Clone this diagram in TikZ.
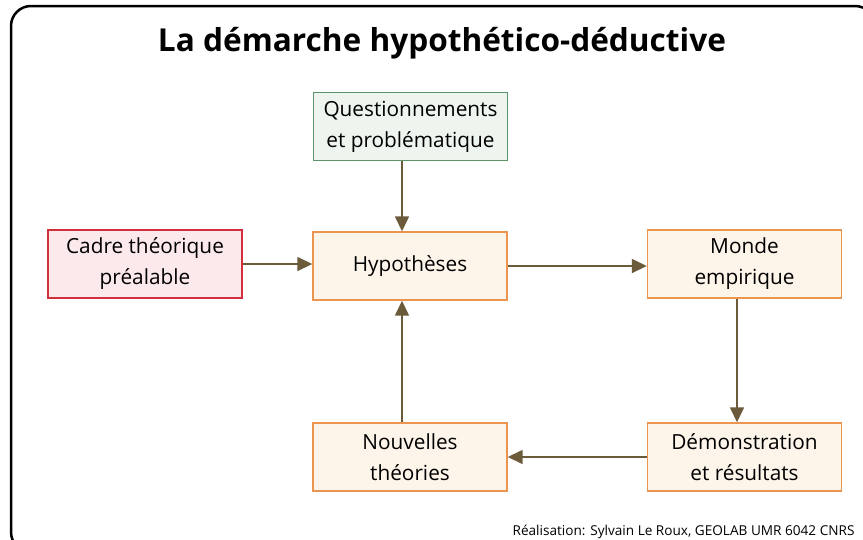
\documentclass[tikz,border=0pt]{standalone}
\usepackage{fontspec}
\setmainfont{Open Sans}
\usetikzlibrary{arrows.meta}
\definecolor{grborder}{HTML}{5A9468}
\definecolor{grfill}{HTML}{EEF5EE}
\definecolor{rdborder}{HTML}{D3303E}
\definecolor{rdfill}{HTML}{FCE9EC}
\definecolor{orborder}{HTML}{EC9550}
\definecolor{orfill}{HTML}{FDF4EA}
\definecolor{arrowcol}{HTML}{6C5B3B}
\tikzset{
  boxbase/.style={draw, line width=1.4pt, minimum width=194pt, minimum height=68pt,
    align=center, inner sep=0pt, font=\fontsize{20.8}{31}\selectfont, text=black},
  greenbox/.style={boxbase, draw=grborder, fill=grfill},
  redbox/.style={boxbase, draw=rdborder, fill=rdfill},
  orangebox/.style={boxbase, draw=orborder, fill=orfill},
  conn/.style={draw=arrowcol, line width=1.5pt, -{Triangle[width=14pt,length=15pt]}, arrowcol}
}
\begin{document}
\begin{tikzpicture}[x=1pt,y=-1pt]
\useasboundingbox (0,0) rectangle (863,539);
\draw[line width=2.5pt, rounded corners=20pt] (11,6) rectangle (875,552);
\node[font=\fontsize{31.6}{36}\selectfont\bfseries] (title) at (442,43) {La démarche hypothético-déductive};
\node[greenbox] (quest) at (410.5,126.5) {Questionnements\\et problématique};
\node[redbox] (cadre) at (145,264) {Cadre théorique\\préalable};
\node[orangebox] (hyp) at (410,266) {Hypothèses};
\node[orangebox] (monde) at (744.5,264) {Monde\\empirique};
\node[orangebox] (nouv) at (410,457) {Nouvelles\\théories};
\node[orangebox] (demo) at (744.5,457) {Démonstration\\et résultats};
\draw[conn] (quest.south -| 402,0) -- (hyp.north -| 402,0);
\draw[conn] (cadre.east) -- (hyp.west |- cadre.east);
\draw[conn] (hyp.east |- 0,266) -- (monde.west |- 0,266);
\draw[conn] (monde.south -| 737,0) -- (demo.north -| 737,0);
\draw[conn] (demo.west) -- (nouv.east);
\draw[conn] (nouv.north -| 402,0) -- (hyp.south -| 402,0);
\node[font=\fontsize{13.6}{15}\selectfont, anchor=base east] (credit) at (858,535) {Réalisation: Sylvain Le Roux, GEOLAB UMR 6042 CNRS};
\end{tikzpicture}
\end{document}
